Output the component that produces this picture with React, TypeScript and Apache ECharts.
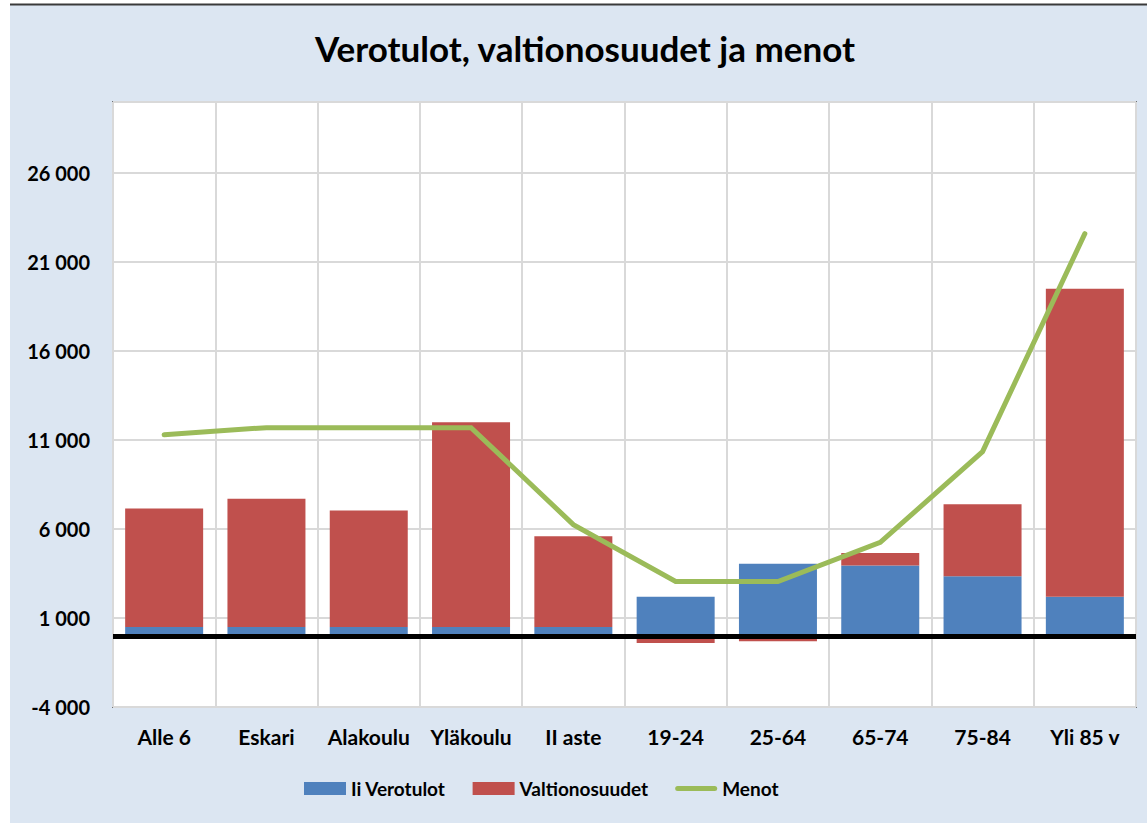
import React, { useEffect, useRef } from "react";
import * as echarts from "echarts";

const categories = ["Alle 6", "Eskari", "Alakoulu", "Yläkoulu", "II aste", "19-24", "25-64", "65-74", "75-84", "Yli 85 v"];
const verotulot = [500, 500, 500, 500, 500, 2200, 4050, 3950, 3350, 2200];
const valtionosuudet = [6650, 7200, 6550, 11500, 5100, -400, -300, 700, 4050, 17300];
const menot = [11300, 11700, 11700, 11700, 6250, 3050, 3050, 5250, 10350, 22600];
const titleText = "Verotulot, valtionosuudet ja menot";
const seriesNames = ["Ii Verotulot", "Valtionosuudet", "Menot"];

const FONT = "Lato, 'Open Sans', sans-serif";

function fmt(v: number): string {
  const s = Math.abs(v).toString().replace(/\B(?=(\d{3})+(?!\d))/g, " ");
  return (v < 0 ? "-" : "") + s;
}

export default function App() {
  const ref = useRef<HTMLDivElement>(null);
  useEffect(() => {
    if (!ref.current) return;
    const chart = echarts.init(ref.current, undefined, { renderer: "svg" });
    chart.setOption({
      animation: false,
      backgroundColor: "#ffffff",
      graphic: [
        { type: "rect", z: -10, shape: { x: 10, y: 5, width: 1137, height: 818 }, style: { fill: "#dce6f2" } },
        { type: "line", z: -9, shape: { x1: 10, y1: 4.5, x2: 1147, y2: 4.5 }, style: { stroke: "#3a3a3a", lineWidth: 2 } },
        {
          type: "text",
          x: 585,
          y: 48,
          style: {
            text: titleText,
            fill: "#000",
            font: `bold 35px ${FONT}`,
            textAlign: "center",
            textVerticalAlign: "middle",
          },
        },
      ],
      grid: {
        left: 113,
        right: 11,
        top: 102,
        bottom: 116,
        show: true,
        backgroundColor: "#ffffff",
        borderColor: "#1a1a1a",
        borderWidth: 1.5,
        containLabel: false,
      },
      legend: {
        bottom: 20,
        left: 299,
        itemWidth: 42,
        itemHeight: 13,
        itemGap: 27,
        textStyle: { fontFamily: FONT, fontWeight: "bold", fontSize: 19, color: "#000" },
        data: [
          { name: seriesNames[0], icon: "rect" },
          { name: seriesNames[1], icon: "rect" },
          { name: seriesNames[2], icon: "path://M2.5,0H39.5A2.5,2.5,0,0,1,39.5,5H2.5A2.5,2.5,0,0,1,2.5,0Z" },
        ],
      },
      xAxis: {
        type: "category",
        data: categories,
        axisLine: { show: false, onZero: false },
        axisTick: { show: false },
        axisLabel: { interval: 0, hideOverlap: false, margin: 19, fontFamily: FONT, fontWeight: "bold", fontSize: 21, color: "#000" },
        splitLine: { show: true, interval: 0, lineStyle: { color: "#d9d9d9", width: 2 } },
      },
      yAxis: {
        type: "value",
        min: -4000,
        max: 30000,
        interval: 5000,
        axisLine: { show: false },
        axisTick: { show: false },
        axisLabel: {
          margin: 23,
          fontFamily: FONT,
          fontWeight: "bold",
          fontSize: 20,
          color: "#000",
          formatter: (v: number) => (v > 26000 ? "" : fmt(v)),
        },
        splitLine: { show: true, lineStyle: { color: "#d9d9d9", width: 2 } },
      },
      series: [
        {
          name: seriesNames[0],
          type: "bar",
          stack: "a",
          barWidth: 78,
          data: verotulot,
          itemStyle: { color: "#4f81bd" },
        },
        {
          name: seriesNames[1],
          type: "bar",
          stack: "a",
          barWidth: 78,
          data: valtionosuudet,
          itemStyle: { color: "#c0504d" },
          markLine: {
            silent: true,
            symbol: ["none", "none"],
            label: { show: false },
            lineStyle: { color: "#000", width: 5, type: "solid" },
            data: [{ yAxis: 0 }],
          },
        },
        {
          name: seriesNames[2],
          type: "line",
          data: menot,
          symbol: "none",
          z: 5,
          lineStyle: { color: "#9bbb59", width: 5, cap: "round", join: "miter" },
          itemStyle: { color: "#9bbb59" },
        },
      ],
    });
    return () => chart.dispose();
  }, []);
  return <div ref={ref} style={{ position: "absolute", left: 0, top: 0, width: 1147, height: 823 }} />;
}
